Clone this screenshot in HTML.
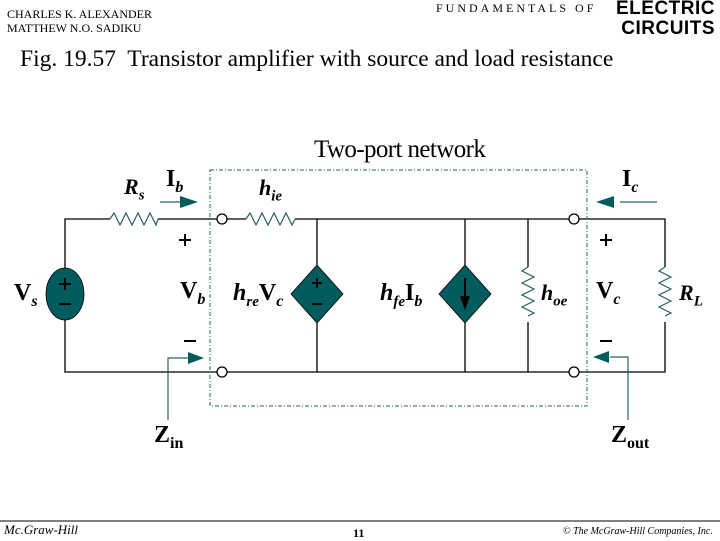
<!DOCTYPE html>
<html><head><style>
body{margin:0;width:720px;height:540px;background:#fff;overflow:hidden;position:relative;font-family:"Liberation Serif",serif}
.a{position:absolute;white-space:nowrap}
</style></head><body>
<div class="a" style="left:7px;top:7px;font-size:12px;line-height:14px">CHARLES K. ALEXANDER<br>MATTHEW N.O. SADIKU</div>
<div class="a" style="left:436px;top:1px;font-size:12px;letter-spacing:3px">FUNDAMENTALS OF</div>
<div class="a" style="left:616px;top:-1px;font:bold 19px/20px 'Liberation Sans',sans-serif;text-align:right;letter-spacing:0.5px">ELECTRIC<br>CIRCUITS</div>
<div class="a" style="left:20px;top:46px;font-size:23.5px">Fig. 19.57&nbsp; Transistor amplifier with source and load resistance</div>
<svg class="a" style="left:0;top:0" width="720" height="540">
<g fill="none" stroke="#000" stroke-width="1.3">
<path d="M65 268V219H110M158 219H217M227 219H246M295 219H317V265M317 323V372H227M217 372H65V320"/>
<path d="M317 219H569M579 219H665V267M665 322V372H579M569 372H317"/>
<path d="M465 219V265M465 323V372M528 219V267M528 322V372"/>
<circle cx="222" cy="219" r="5"/><circle cx="222" cy="372" r="5"/>
<circle cx="574" cy="219" r="5"/><circle cx="574" cy="372" r="5"/>
</g>
<rect x="210" y="170" width="377" height="236" fill="none" stroke="#2a6060" stroke-dasharray="4,2,1,2"/>
<g fill="none" stroke="#2a6060" stroke-width="1.2">
<path d="M110 219l4-6 6 12 6-12 6 12 6-12 6 12 6-12 6 12 2-6"/>
<path d="M246 219l4-6 6 12 6-12 6 12 6-12 6 12 6-12 6 12 3-6"/>
<path d="M528 267l-6 4 12 6-12 6 12 6-12 6 12 6-12 6 12 6-6 3"/>
<path d="M665 267l-6 4 12 6-12 6 12 6-12 6 12 6-12 6 12 6-6 3"/>
<path d="M160 202H182M657 202H620M168 420V358H190M628 420V357H610"/>
</g>
<g fill="#005c5c">
<polygon points="180,196 198,202 180,208"/>
<polygon points="614,196 596,202 614,208"/>
<polygon points="188,352 204,358 188,364"/>
<polygon points="609,351 593,357 609,363"/>
<ellipse cx="65" cy="294" rx="19" ry="26" stroke="#000" stroke-width="0.8"/>
<polygon points="317,265 343,294 317,323 291,294" stroke="#000" stroke-width="0.8"/>
<polygon points="465,265 491,294 465,323 439,294" stroke="#000" stroke-width="0.8"/>
</g>
<g stroke="#000" stroke-width="2">
<path d="M65 278v12M59 284h12M59 304h12M317 278v10M312 283h10M312 304h10"/>
<path d="M465 278v20"/>
<path d="M179 240h12M185 234v12M600 240h12M606 234v12M184 341h12M600 341h12"/>
</g>
<polygon points="460,296 470,296 465,310" fill="#000"/>
<line x1="0" y1="521" x2="720" y2="521" stroke="#000"/>
</svg>
<div class="a" style="left:314px;top:136px;font-size:25px;letter-spacing:-0.6px">Two-port network</div>
<div class="a" style="left:124px;top:174px;font:italic bold 22px 'Liberation Serif',serif">R<sub style="font-size:15px">s</sub></div>
<div class="a" style="left:166px;top:166px;font:bold 24px 'Liberation Serif',serif">I<sub style="font-size:16px;font-style:italic">b</sub></div>
<div class="a" style="left:259px;top:175px;font:italic bold 22px 'Liberation Serif',serif">h<sub style="font-size:15px">ie</sub></div>
<div class="a" style="left:622px;top:166px;font:bold 24px 'Liberation Serif',serif">I<sub style="font-size:16px;font-style:italic">c</sub></div>
<div class="a" style="left:14px;top:280px;font:bold 24px 'Liberation Serif',serif">V<sub style="font-size:16px;font-style:italic">s</sub></div>
<div class="a" style="left:180px;top:278px;font:bold 24px 'Liberation Serif',serif">V<sub style="font-size:16px;font-style:italic">b</sub></div>
<div class="a" style="left:233px;top:280px;font:bold 24px 'Liberation Serif',serif"><i>h<sub style="font-size:15px">re</sub></i>V<sub style="font-size:16px;font-style:italic">c</sub></div>
<div class="a" style="left:380px;top:280px;font:bold 24px 'Liberation Serif',serif"><i>h<sub style="font-size:15px">fe</sub></i>I<sub style="font-size:16px;font-style:italic">b</sub></div>
<div class="a" style="left:541px;top:280px;font:italic bold 22px 'Liberation Serif',serif">h<sub style="font-size:15px">oe</sub></div>
<div class="a" style="left:596px;top:278px;font:bold 24px 'Liberation Serif',serif">V<sub style="font-size:16px;font-style:italic">c</sub></div>
<div class="a" style="left:679px;top:280px;font:italic bold 22px 'Liberation Serif',serif">R<sub style="font-size:15px">L</sub></div>
<div class="a" style="left:154px;top:422px;font:bold 24px 'Liberation Serif',serif">Z<sub style="font-size:16px">in</sub></div>
<div class="a" style="left:611px;top:422px;font:bold 24px 'Liberation Serif',serif">Z<sub style="font-size:16px">out</sub></div>
<div class="a" style="left:4px;top:522px;font:italic 13px 'Liberation Serif',serif">Mc.Graw-Hill</div>
<div class="a" style="left:353px;top:526px;font:bold 12px 'Liberation Serif',serif">11</div>
<div class="a" style="left:563px;top:526px;font:italic 10px 'Liberation Serif',serif">© The McGraw-Hill Companies, Inc.</div>
</body></html>
